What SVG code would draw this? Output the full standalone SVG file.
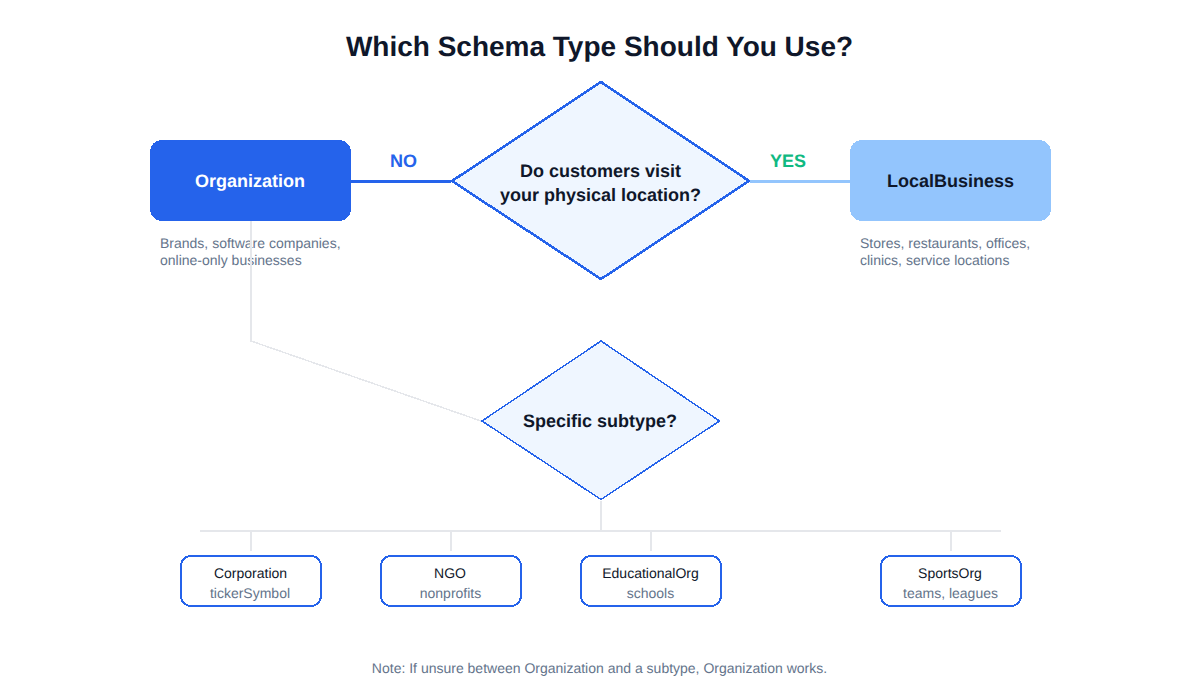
<svg xmlns="http://www.w3.org/2000/svg" width="1200" height="700" viewBox="0 0 1200 700" shape-rendering="crispEdges" text-rendering="geometricPrecision">
<style>
text{font-family:"Liberation Sans",Arial,sans-serif}
.m{text-anchor:middle}
.title{font-size:28px;font-weight:700;fill:#0f172a}
.q{font-size:18px;font-weight:600;fill:#0f172a}
.d{font-size:14px;fill:#64748b}
.s{font-size:14px;fill:#0f172a}
.sb{fill:#fff;stroke:#2563eb;stroke-width:2}
.g{fill:none;stroke:#e5e7eb;stroke-width:2}
.dm{fill:#eff6ff;stroke:#2563eb}
</style>
<rect width="1200" height="700" fill="#fff"/>
<g opacity="0.999">
<text class="title m" x="599.500" y="56">Which Schema Type Should You Use?</text>
<text class="m" x="403.500" y="167" font-size="18" font-weight="700" fill="#2563eb">NO</text>
<text class="m" x="788" y="167" font-size="18" font-weight="700" fill="#10b981">YES</text>
<g id="q1">
<polygon class="dm" stroke-width="2.500" points="601,82 749,181 601,279 452,181"/>
<text class="q m" x="600.500" y="177">Do customers visit</text>
<text class="q m" x="600.500" y="201">your physical location?</text>
</g>
<g id="organization">
<rect x="150" y="140" width="201" height="81" rx="12" fill="#2563eb"/>
<text class="m" x="250" y="187" font-size="18" font-weight="700" fill="#fff">Organization</text>
<text class="d" x="160" y="248">Brands, software companies,</text>
<text class="d" x="160" y="265">online-only businesses</text>
</g>
<g id="localbusiness">
<rect x="850" y="140" width="201" height="81" rx="12" fill="#93c5fd"/>
<text class="m" x="950.500" y="187" font-size="18" font-weight="700" fill="#0f172a">LocalBusiness</text>
<text class="d" x="860" y="248">Stores, restaurants, offices,</text>
<text class="d" x="860" y="265">clinics, service locations</text>
</g>
<g id="q2">
<polygon class="dm" stroke-width="1.500" points="601,341 719.500,421 601,499.500 482,421"/>
<text class="q m" x="600" y="427">Specific subtype?</text>
</g>
<g id="corporation"><rect class="sb" x="181" y="556" width="140" height="50" rx="10"/><text class="s m" x="250.500" y="578">Corporation</text><text class="d m" x="250" y="598">tickerSymbol</text></g>
<g id="ngo"><rect class="sb" x="381" y="556" width="140" height="50" rx="10"/><text class="s m" x="450" y="578">NGO</text><text class="d m" x="450.500" y="598">nonprofits</text></g>
<g id="educational"><rect class="sb" x="581" y="556" width="140" height="50" rx="10"/><text class="s m" x="650.500" y="578">EducationalOrg</text><text class="d m" x="650.500" y="598">schools</text></g>
<g id="sports"><rect class="sb" x="881" y="556" width="140" height="50" rx="10"/><text class="s m" x="950" y="578">SportsOrg</text><text class="d m" x="950.500" y="598">teams, leagues</text></g>
<g id="connectors">
<path d="M351 181H451" fill="none" stroke="#2563eb" stroke-width="3"/>
<path d="M750 181H850" fill="none" stroke="#93c5fd" stroke-width="3"/>
<path d="M251 221V341L481 421" fill="none" stroke="#e5e7eb" stroke-width="1.500"/>
<path class="g" d="M601 501V531M200 531H1001M251 531V551M451 531V551M651 531V551M951 531V551"/>
</g>
<text class="d m" x="599.500" y="673">Note: If unsure between Organization and a subtype, Organization works.</text>
</g>
</svg>
